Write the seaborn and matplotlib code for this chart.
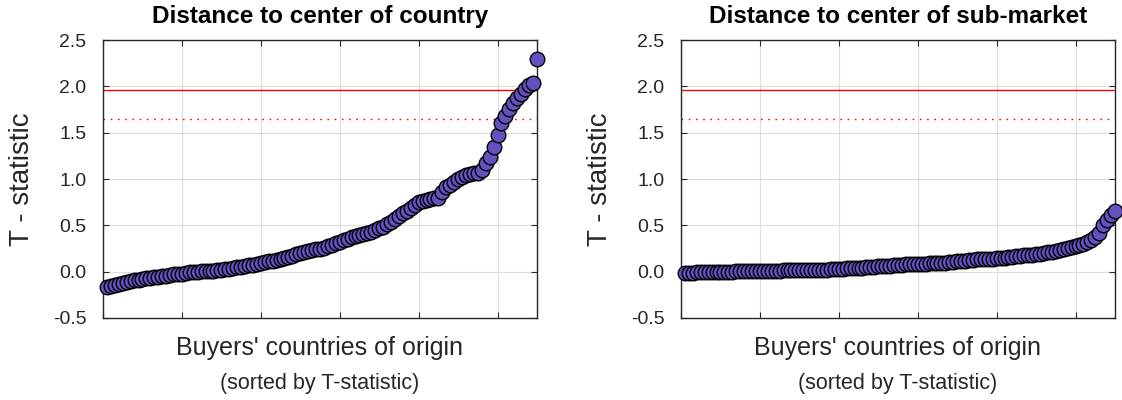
import numpy as np
import pandas as pd
import matplotlib
matplotlib.use("Agg")
import matplotlib.pyplot as plt
import seaborn as sns

# T-statistics per buyers' country of origin, sorted ascending
country_t = [
    -0.17, -0.155, -0.14, -0.13, -0.12, -0.11, -0.10, -0.09, -0.085, -0.08,
    -0.07, -0.065, -0.06, -0.055, -0.05, -0.045, -0.04, -0.03, -0.025, -0.02,
    -0.01, -0.005, 0.0, 0.0, 0.005, 0.005, 0.01, 0.01, 0.015, 0.02,
    0.025, 0.03, 0.04, 0.045, 0.05, 0.06, 0.07, 0.075, 0.08, 0.09,
    0.10, 0.11, 0.12, 0.13, 0.14, 0.15, 0.16, 0.17, 0.19, 0.20,
    0.21, 0.22, 0.23, 0.24, 0.25, 0.26, 0.28, 0.29, 0.31, 0.32,
    0.34, 0.35, 0.37, 0.38, 0.40, 0.41, 0.42, 0.43, 0.45, 0.47,
    0.48, 0.51, 0.54, 0.57, 0.60, 0.63, 0.66, 0.69, 0.72, 0.75,
    0.76, 0.77, 0.78, 0.79, 0.80, 0.86, 0.91, 0.94, 0.97, 1.00,
    1.02, 1.04, 1.05, 1.06, 1.07, 1.10, 1.17, 1.24, 1.34, 1.47,
    1.60, 1.68, 1.76, 1.82, 1.87, 1.92, 1.97, 2.01, 2.04, 2.29,
]
submarket_t = [
    -0.01, -0.01, -0.01, -0.005, -0.005, -0.005, -0.005, 0.0, 0.0, 0.0,
    0.0, 0.0, 0.0, 0.002, 0.002, 0.002, 0.003, 0.003, 0.003, 0.004,
    0.004, 0.005, 0.005, 0.006, 0.012, 0.013, 0.014, 0.015, 0.016, 0.017,
    0.018, 0.019, 0.02, 0.02, 0.021, 0.022, 0.023, 0.025, 0.03, 0.032,
    0.034, 0.036, 0.038, 0.04, 0.042, 0.044, 0.046, 0.05, 0.055, 0.058,
    0.06, 0.062, 0.065, 0.068, 0.07, 0.075, 0.078, 0.08, 0.082, 0.084,
    0.086, 0.088, 0.09, 0.092, 0.094, 0.096, 0.098, 0.10, 0.105, 0.11,
    0.115, 0.12, 0.125, 0.13, 0.132, 0.135, 0.138, 0.14, 0.142, 0.145,
    0.148, 0.15, 0.155, 0.16, 0.165, 0.17, 0.175, 0.18, 0.185, 0.19,
    0.195, 0.20, 0.21, 0.215, 0.22, 0.23, 0.245, 0.26, 0.27, 0.28,
    0.29, 0.30, 0.32, 0.34, 0.37, 0.42, 0.50, 0.56, 0.61, 0.66,
]
titles = ["Distance to center of country", "Distance to center of sub-market"]
crit_5 = 1.96
crit_10 = 1.645
yticks = [-0.5, 0.0, 0.5, 1.0, 1.5, 2.0, 2.5]
xticks = [0, 20, 40, 60, 80, 100]

sns.set_style("white")
plt.rcParams['font.family'] = ['Liberation Sans', 'DejaVu Sans']

text_col = '#262626'
fig = plt.figure(figsize=(11.22, 4.0), dpi=100)
W, H = 1122, 400
lefts = [103, 681]

for left, vals, title in zip(lefts, [country_t, submarket_t], titles):
    ax = fig.add_axes([left / W, 82 / H, 434 / W, 278 / H])
    df = pd.DataFrame({'rank': np.arange(1, len(vals) + 1), 't': vals})

    ax.axhline(crit_5, color='red', lw=1.0, zorder=2)
    ax.axhline(crit_10, color='red', lw=1.0, ls=(0, (1.2, 4)), zorder=2)
    sns.scatterplot(data=df, x='rank', y='t', ax=ax, s=110, color='#6650c0',
                    edgecolor='black', linewidth=1.0, clip_on=False,
                    zorder=3, legend=False)

    ax.set_xlim(0, 110)
    ax.set_ylim(-0.5, 2.5)
    ax.set_xticks(xticks)
    ax.set_xticklabels([])
    ax.set_yticks(yticks)
    ax.set_yticklabels([f"{v:.1f}" for v in yticks], fontsize=14, color=text_col)
    ax.tick_params(direction='in', length=4, width=0.8, top=True, right=True,
                   left=True, bottom=True, color=text_col, pad=12)
    ax.grid(True, color='#dcdcdc', lw=0.8)
    for sp in ax.spines.values():
        sp.set_color(text_col)
        sp.set_linewidth(1.0)

    ax.set_title(title, fontsize=17.5, fontweight='bold', color='black',
                 y=1.083, va='center', pad=0)
    ax.set_ylabel("T - statistic", fontsize=20, color=text_col, va='center')
    ax.yaxis.set_label_coords(-0.187, 0.5)
    ax.set_xlabel("Buyers' countries of origin", fontsize=18, color=text_col,
                  va='center')
    ax.xaxis.set_label_coords(0.5, -0.108)
    ax.text(0.5, -0.234, "(sorted by T-statistic)", transform=ax.transAxes,
            ha='center', va='center', fontsize=15.5, color=text_col)

fig.savefig('out.png', dpi=100)
